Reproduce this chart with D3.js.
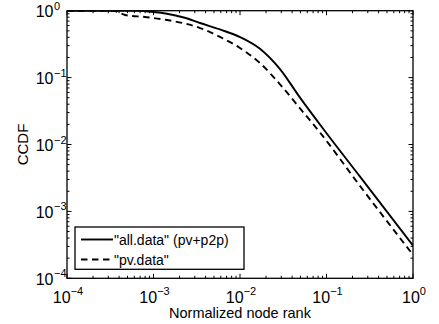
<!DOCTYPE html>
<html>
<head>
<meta charset="utf-8">
<script src="https://cdn.jsdelivr.net/npm/d3@7"></script>
<style>
  html, body { margin: 0; padding: 0; background: #fff; }
  svg { display: block; }
  text { font-family: "Liberation Sans", Arial, Helvetica, sans-serif; fill: #000; }
</style>
</head>
<body>
<svg id="chart" width="439" height="324"></svg>
<script>
// ---- data ----
const allX = [1e-4, 6.46e-4, 1e-3, 1.43e-3, 2.24e-3, 3.45e-3, 5.87e-3, 0.01, 0.0170, 0.0290, 0.0494, 0.0962, 0.244, 1];
const allY = [1, 0.993, 0.955, 0.90, 0.791, 0.655, 0.524, 0.404, 0.270, 0.134, 0.0502, 0.0158, 0.00331, 3.09e-4];

const pvX = [1e-4, 3.40e-4, 4.69e-4, 7.98e-4, 1.43e-3, 3.45e-3, 5.87e-3, 0.01, 0.0170, 0.0290, 0.0494, 0.0841, 0.244, 1];
const pvY = [1, 1, 0.863, 0.805, 0.726, 0.551, 0.405, 0.277, 0.165, 0.0794, 0.0347, 0.0151, 0.0024, 2.24e-4];

const xTickExps = [-4, -3, -2, -1, 0];
const yTickExps = [-4, -3, -2, -1, 0];
const seriesNames = ['"all.data" (pv+p2p)', '"pv.data"'];
const xTitle = "Normalized node rank";
const yTitle = "CCDF";

// ---- layout ----
const svg = d3.select("#chart");
const L = 67, R = 413, T = 10.7, B = 278.3;
const x = d3.scaleLog().domain([1e-4, 1]).range([L, R]);
const y = d3.scaleLog().domain([1e-4, 1]).range([B, T]);

const majors = xTickExps.map(e => Math.pow(10, e));
const minors = [];
for (let e = -4; e < 0; e++) for (let m = 2; m <= 9; m++) minors.push(m * Math.pow(10, e));
const yMajors = yTickExps.map(e => Math.pow(10, e));

const tickG = svg.append("g").attr("stroke", "#000").attr("stroke-width", 1);
const MAJ = 4.5, MIN = 2.5;
majors.concat(minors).forEach(v => {
  const len = majors.includes(v) ? MAJ : MIN;
  const px = x(v);
  tickG.append("line").attr("x1", px).attr("x2", px).attr("y1", B).attr("y2", B - len);
  tickG.append("line").attr("x1", px).attr("x2", px).attr("y1", T).attr("y2", T + len);
});
yMajors.concat(minors).forEach(v => {
  const len = yMajors.includes(v) ? MAJ : MIN;
  const py = y(v);
  tickG.append("line").attr("y1", py).attr("y2", py).attr("x1", L).attr("x2", L + len);
  tickG.append("line").attr("y1", py).attr("y2", py).attr("x1", R).attr("x2", R - len);
});

svg.append("rect").attr("x", L).attr("y", T).attr("width", R - L).attr("height", B - T)
  .attr("fill", "none").attr("stroke", "#000").attr("stroke-width", 1.3);

// tick labels
const expText = e => (e === 0 ? "0" : "\u2212" + Math.abs(e));
xTickExps.forEach(e => {
  const t = svg.append("text").attr("x", x(Math.pow(10, e)) + 1).attr("y", B + 24.4)
    .attr("text-anchor", "middle").attr("font-size", 16);
  t.append("tspan").text("10");
  t.append("tspan").attr("dy", -7.5).attr("font-size", 11).text(expText(e));
});
yTickExps.forEach(e => {
  const py = y(Math.pow(10, e));
  svg.append("text").attr("x", 53.5).attr("y", py + 6.5)
    .attr("text-anchor", "end").attr("font-size", 16).text("10");
  svg.append("text").attr("x", 54).attr("y", py - 1)
    .attr("text-anchor", "start").attr("font-size", 11).text(expText(e));
});

// axis titles
svg.append("text").attr("x", (L + R) / 2).attr("y", 317.5).attr("text-anchor", "middle")
  .attr("font-size", 14.5).text(xTitle);
svg.append("text").attr("transform", `translate(28.3, ${(T + B) / 2}) rotate(-90)`)
  .attr("text-anchor", "middle").attr("font-size", 15).text(yTitle);

// lines
const line = d3.line().x(d => x(d[0])).y(d => y(d[1])).curve(d3.curveMonotoneX);
svg.append("clipPath").attr("id", "clip").append("rect")
  .attr("x", L).attr("y", T).attr("width", R - L).attr("height", B - T);
svg.append("path").datum(allX.map((v, i) => [v, allY[i]]))
  .attr("d", line).attr("fill", "none").attr("stroke", "#000").attr("stroke-width", 1.9)
  .attr("clip-path", "url(#clip)");
svg.append("path").datum(pvX.map((v, i) => [v, pvY[i]]))
  .attr("d", line).attr("fill", "none").attr("stroke", "#000").attr("stroke-width", 1.9)
  .attr("stroke-dasharray", "6.5,4.5").attr("clip-path", "url(#clip)");

// legend
const lg = svg.append("g");
lg.append("rect").attr("x", 75).attr("y", 227).attr("width", 169).attr("height", 42.3)
  .attr("fill", "#fff").attr("stroke", "#000").attr("stroke-width", 1.3);
const rows = [{ y: 239.5, dash: null }, { y: 259.5, dash: "6.5,4.5" }];
rows.forEach((r, i) => {
  const l = lg.append("line").attr("x1", 81).attr("x2", 113).attr("y1", r.y).attr("y2", r.y)
    .attr("stroke", "#000").attr("stroke-width", 1.9);
  if (r.dash) l.attr("stroke-dasharray", r.dash);
  lg.append("text").attr("x", 114).attr("y", r.y + 5).attr("font-size", 14).text(seriesNames[i]);
});
</script>
</body>
</html>
